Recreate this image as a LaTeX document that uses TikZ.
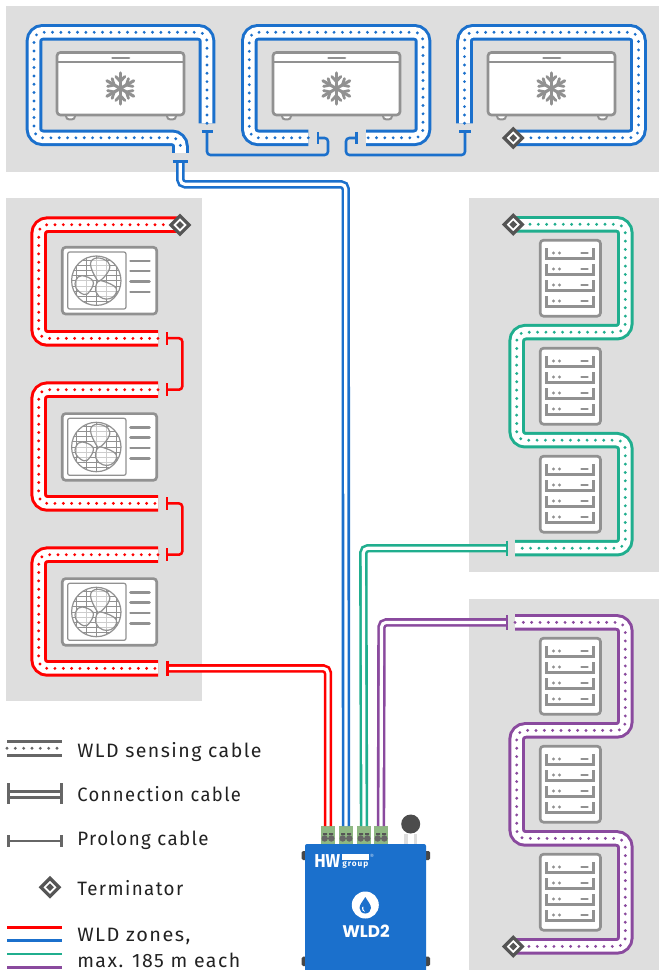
\documentclass[tikz,border=0pt]{standalone}
\usepackage{fontspec}
\usetikzlibrary{shapes.geometric}
\newfontfamily\lgdfont[LetterSpace=7.5]{Fira Sans}
\newfontfamily\wldfont[Scale=1]{Poppins Bold}
\newfontfamily\hwfont{Fira Sans Bold}
\newfontfamily\grpfont[LetterSpace=12]{Fira Sans Bold}
\definecolor{panelgray}{HTML}{DEDEDE}
\definecolor{icongray}{HTML}{919191}
\definecolor{termgray}{HTML}{555555}
\definecolor{lgdgray}{HTML}{666666}
\definecolor{txtdark}{HTML}{222222}
\definecolor{zred}{HTML}{FF0000}
\definecolor{zblue}{HTML}{1B70CC}
\definecolor{zgreen}{HTML}{20AE8E}
\definecolor{zpurple}{HTML}{8A4A9E}
\definecolor{termgreen}{HTML}{8FB883}
\tikzset{
  panel/.style={fill=panelgray,draw=none},
  iconbody/.style={draw=icongray,fill=white,line width=2pt,rounded corners=2.5pt},
  iconline/.style={draw=icongray,line width=2pt,line cap=round},
  thinline/.style={draw=icongray,line width=.9pt},
  gridline/.style={draw=icongray,line width=.5pt},
  prolong/.style={line width=1.9pt,rounded corners=2.5pt},
  tbar/.style={line width=2.1pt},
  zoneline/.style={line width=2.1pt},
  termring/.style={diamond,draw=termgray,fill=white,line width=2.4pt,minimum size=14.6pt,inner sep=0pt},
  termdot/.style={diamond,fill=termgray,minimum size=6pt,inner sep=0pt},
  lgdtext/.style={anchor=base west,inner sep=0pt,text=txtdark,font=\fontsize{14.5pt}{16pt}\lgdfont},
}
% sensing cable: outer lines, white core, row of dots
\newcommand{\sensing}[2]{%
  \draw[#1,line width=12.4pt,rounded corners=6.5pt] #2;
  \draw[white,line width=7.9pt,rounded corners=6.5pt] #2;
  \draw[#1,line width=2.4pt,line cap=round,dash pattern=on 0pt off 6.25pt,rounded corners=6.5pt] #2;
}
% connection cable: two lines with a white gap
\newcommand{\conncable}[2]{%
  \draw[#1,line width=6.3pt,rounded corners=3.5pt] #2;
  \draw[white,line width=2.4pt,rounded corners=3.5pt] #2;
}
\newcommand{\terminator}[2]{%
  \node[termring] (#1) at (#2) {};
  \node[termdot] (#1dot) at (#1) {};
}
\newcommand{\freezer}[1]{%
  \begin{scope}[shift={(#1,0)}]
    \draw[iconbody,line width=1.5pt] (66,112) rectangle (75,119.5);
    \draw[iconbody,line width=1.5pt] (167,112) rectangle (176,119.5);
    \draw[iconbody] (57,52.5) rectangle (184,115);
    \draw[iconline,line cap=butt] (57,62) -- (184,62);
    \draw[iconline] (112.5,58) -- (129,58);
    \foreach \a in {30,90,150,210,270,330}{
      \begin{scope}[shift={(120.3,88.5)},rotate=\a]
        \draw[iconline,line width=2.3pt] (0,0) -- (15.5,0);
        \draw[iconline,line width=2.1pt] (7,0) -- (12,4.5) (7,0) -- (12,-4.5);
      \end{scope}
    }
  \end{scope}
}
\newcommand{\fanunit}[1]{%
  \begin{scope}[shift={(0,#1)}]
    \draw[iconbody] (62.3,247.3) rectangle (156.7,314);
    \draw[thinline,rounded corners=1.5pt] (67.7,252) rectangle (126,309);
    \begin{scope}
      \clip (96.3,280.7) circle (24.7);
      \foreach \i in {-2,...,2}{
        \draw[gridline] (96.3+\i*10,250) -- (96.3+\i*10,312);
      }
      \foreach \i in {-4,...,4}{
        \draw[gridline] (66,280.7+\i*5.2) -- (127,280.7+\i*5.2);
      }
    \end{scope}
    \draw[thinline] (96.3,280.7) circle (24.7);
    \draw[thinline,fill=white,fill opacity=.55] plot[smooth cycle,tension=.7] coordinates {(96.5,279) (90.5,264) (97,258) (108,262) (109,270) (101,280)};
    \draw[thinline,fill=white,fill opacity=.55] plot[smooth cycle,tension=.7] coordinates {(93,281) (82,275.7) (76,280) (76,288) (84,294.5) (90,291)};
    \draw[thinline,fill=white,fill opacity=.55] plot[smooth cycle,tension=.7] coordinates {(97.5,282) (96,292) (103,298.5) (113,297) (116,288) (104,281.5)};
    \foreach \yy in {261,271,281.7,292}{
      \draw[iconline] (130.5,\yy) -- (149.5,\yy);
    }
  \end{scope}
}
\newcommand{\rackicon}[1]{%
  \begin{scope}[shift={(0,#1)}]
    \draw[iconbody] (540.2,240.2) rectangle (600.5,316.2);
    \foreach \r in {0,16,32,48}{
      \draw[iconline,line cap=butt] (546.5,248.3+\r) -- (546.5,258.5+\r) -- (593.8,258.5+\r) -- (593.8,248.3+\r);
      \fill[icongray] (553.5,253+\r) circle (1.7) (559.5,253+\r) circle (1.7);
      \draw[iconline] (581.5,253+\r) -- (587.5,253+\r);
    }
  \end{scope}
}
\newcommand{\plugblock}[2]{%
  \fill[termgreen] (#1,826) rectangle ++(14,18);
  \fill[termgray] (#1+2,833) rectangle ++(4,2) (#1+8,833) rectangle ++(4,2);
  \fill[lgdgray] (#1+3.7,838.5) circle (3.2) (#1+10.3,838.5) circle (3.2);
  \coordinate (#2) at (#1+7,826);
}
\begin{document}
\begin{tikzpicture}[x=.75pt,y=-.75pt]
\useasboundingbox (0,0) rectangle (659,970);
\fill[white] (0,0) rectangle (659,970);
% panels
\fill[panel] (6,6) rectangle (659,172);
\fill[panel] (6,198) rectangle (202,701);
\fill[panel] (469,198) rectangle (659,572);
\fill[panel] (469,599) rectangle (659,970);
% icons
\freezer{0}\freezer{216}\freezer{431}
\fanunit{0}\fanunit{166.3}\fanunit{331.3}
\rackicon{0}\rackicon{108}\rackicon{216}
\rackicon{398}\rackicon{506}\rackicon{614}
% sensing cables
\sensing{zblue}{(207,123.3) -- (207,32.3) -- (34,32.3) -- (34,137.8) -- (180.5,137.8) -- (180.5,153)}
\sensing{zblue}{(308.3,137.8) -- (249.3,137.8) -- (249.3,32.3) -- (423,32.3) -- (423,137.8) -- (366,137.8)}
\sensing{zblue}{(464.5,123.3) -- (464.5,32.3) -- (638.5,32.3) -- (638.5,137.8) -- (513.3,137.8)}
\sensing{zred}{(180,224.7) -- (38.7,224.7) -- (38.7,338.4) -- (158,338.4)}
\sensing{zred}{(158,389.7) -- (38.7,389.7) -- (38.7,503.4) -- (158,503.4)}
\sensing{zred}{(158,554.7) -- (38.7,554.7) -- (38.7,668.4) -- (158,668.4)}
\sensing{zgreen}{(513.3,224.3) -- (625.3,224.3) -- (625.3,332.2) -- (516.7,332.2) -- (516.7,440.2) -- (625.3,440.2) -- (625.3,548.2) -- (515,548.2)}
\sensing{zpurple}{(515,622.4) -- (625.3,622.4) -- (625.3,730.4) -- (516.7,730.4) -- (516.7,838.4) -- (625.3,838.4) -- (625.3,946.4) -- (513.3,946.4)}
% cable ends
\coordinate (blueA) at (180.3,161.7);
\coordinate (blueB) at (207,131.5);
\coordinate (blueC) at (318,138);
\coordinate (blueD) at (356.7,138);
\coordinate (blueE) at (465,131.5);
\coordinate (redA) at (167,338.2);
\coordinate (redB) at (167,389.7);
\coordinate (redC) at (167,503.4);
\coordinate (redD) at (167,554.7);
\coordinate (redE) at (167.3,668.4);
\coordinate (greenA) at (507,548.2);
\coordinate (purpleA) at (507,622.4);
% device plugs
\plugblock{321}{plugR}
\plugblock{339}{plugB}
\plugblock{357}{plugG}
\plugblock{374}{plugP}
% prolong cables
\draw[zblue,prolong] (blueB) -- (207,155) -- (328,155) -- (328,138) -- (blueC);
\draw[zblue,prolong] (blueD) -- (346,138) -- (346,155) -- (465,155) -- (blueE);
\draw[zred,prolong] (redA) -- (182.3,338.2) -- (182.3,389.7) -- (redB);
\draw[zred,prolong] (redC) -- (182.3,503.4) -- (182.3,554.7) -- (redD);
% connection cables
\conncable{zred}{(redE) -- (328,668.4) -- (plugR)}
\conncable{zblue}{(blueA) -- (180.3,184.3) -- (345.7,184.3) -- (plugB)}
\conncable{zgreen}{(greenA) -- (363.3,548.2) -- (plugG)}
\conncable{zpurple}{(purpleA) -- (381.5,622.4) -- (plugP)}
% T bars
\draw[zblue,tbar] (172.5,161.7) -- (188,161.7);
\draw[zblue,tbar] (201.5,131.5) -- (213,131.5);
\draw[zblue,tbar] (318,132) -- (318,144);
\draw[zblue,tbar] (356.7,132) -- (356.7,144);
\draw[zblue,tbar] (459,131.5) -- (471,131.5);
\draw[zred,tbar] (167,332) -- (167,344.5);
\draw[zred,tbar] (167,383.2) -- (167,396);
\draw[zred,tbar] (167,497) -- (167,509.7);
\draw[zred,tbar] (167,548.2) -- (167,561);
\draw[zred,tbar] (167.3,660.7) -- (167.3,676);
\draw[zgreen,tbar] (507,540.7) -- (507,555.7);
\draw[zpurple,tbar] (507,614.9) -- (507,629.9);
% terminators
\terminator{termA}{513.3,138}
\terminator{termB}{180,225}
\terminator{termC}{513.3,224.5}
\terminator{termD}{513.3,946.5}
% device
\fill[lgdgray!70!black,rounded corners=1pt] (301.7,851) rectangle (308,860);
\fill[lgdgray!70!black,rounded corners=1pt] (301.7,956.7) rectangle (308,966);
\fill[lgdgray!70!black,rounded corners=1pt] (423,851) rectangle (430,860);
\fill[lgdgray!70!black,rounded corners=1pt] (423,956.7) rectangle (430,966);
\fill[panelgray] (404,834) rectangle (417,844);
\fill[white] (407.5,834) rectangle (413.5,844);
\fill[termgray!90!black] (410.7,824) circle (9.5);
\fill[zblue,rounded corners=1.5pt] (305,844) rectangle (426,975);
\node[font=\fontsize{14pt}{14pt}\hwfont,text=white,inner sep=0pt,anchor=base west] (hwlogo) at (314,867) {\scalebox{.92}[1]{HW}};
\fill[white] (342,854) rectangle (369,860);
\node[font=\fontsize{6.2pt}{7pt}\grpfont,text=white,inner sep=0pt,anchor=base west] (grouplogo) at (342,866.5) {group};
\node[font=\fontsize{3.5pt}{4pt}\sffamily,text=white,inner sep=0pt] (reg) at (372,855.5) {®};
\fill[white] (365.3,905) circle (13.5);
\fill[zblue] (365.3,897) .. controls (363,901) and (359.5,904.5) .. (359.5,908) .. controls (359.5,911) and (362,913.5) .. (365.3,913.5) .. controls (368.6,913.5) and (371,911) .. (371,908) .. controls (371,904.5) and (367.6,901) .. (365.3,897) -- cycle;
\fill[white] (362,907.5) .. controls (361.5,910) and (363,911.5) .. (365,911.8) .. controls (363.5,910.5) and (363,909) .. (363.3,906.5) -- cycle;
\node[font=\fontsize{12.6pt}{14pt}\wldfont,text=white,inner sep=0pt,anchor=base] (wldname) at (366,937) {WLD2};
% legend
\sensing{lgdgray}{(7,748.3) -- (62,748.3)}
\conncable{lgdgray}{(8.3,794.5) -- (61.5,794.5)}
\draw[lgdgray,tbar] (8.3,783.3) -- (8.3,804.3);
\draw[lgdgray,tbar] (61.5,783.3) -- (61.5,804.3);
\draw[lgdgray,tbar] (8.3,841) -- (61.5,841);
\draw[lgdgray,tbar] (8.3,835) -- (8.3,847.3);
\draw[lgdgray,tbar] (61.5,835) -- (61.5,847.3);
\terminator{termL}{50,887.3}
\draw[zred,zoneline] (7,927.3) -- (62,927.3);
\draw[zblue,zoneline] (7,940.7) -- (62,940.7);
\draw[zgreen,zoneline] (7,954) -- (62,954);
\draw[zpurple,zoneline] (7,967.7) -- (62,967.7);
\node[lgdtext] (lgdA) at (77,757) {\scalebox{1.01}[1]{WLD sensing cable}};
\node[lgdtext] (lgdB) at (77,801.7) {\scalebox{.953}[1]{Connection cable}};
\node[lgdtext] (lgdC) at (77,845.7) {\scalebox{.97}[1]{Prolong cable}};
\node[lgdtext] (lgdD) at (77,895.7) {\scalebox{.97}[1]{Terminator}};
\node[lgdtext] (lgdE) at (77,941) {\scalebox{1.03}[1]{WLD zones,}};
\node[lgdtext] (lgdF) at (77,967) {\scalebox{1.01}[1]{max. 185 m each}};
\end{tikzpicture}
\end{document}
